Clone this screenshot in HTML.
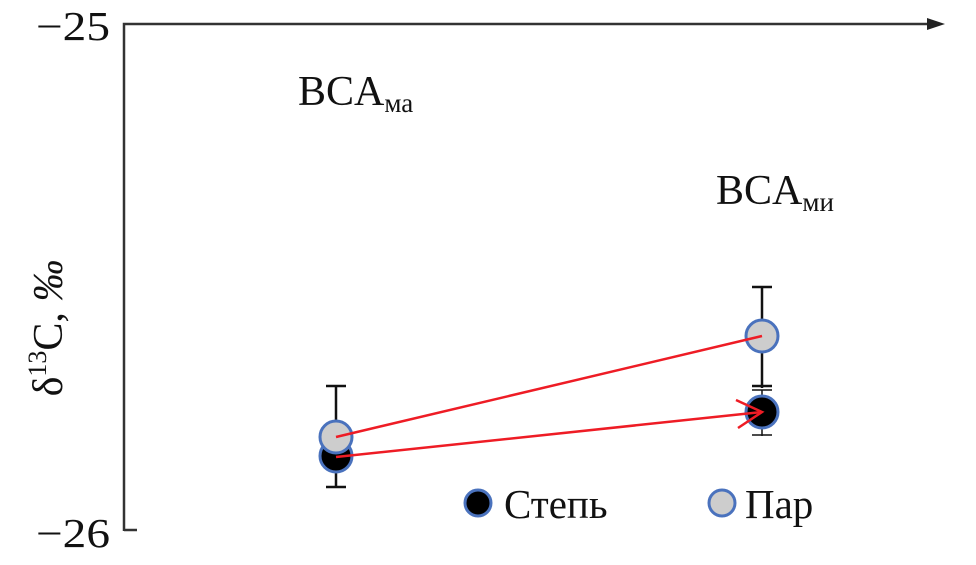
<!DOCTYPE html>
<html><head><meta charset="utf-8"><style>
body{margin:0;background:#fff}
svg text{font-family:"Liberation Serif",serif;fill:#111}
</style></head><body>
<svg width="976" height="560" viewBox="0 0 976 560" xmlns="http://www.w3.org/2000/svg">
<g stroke="#333" stroke-width="2.5" fill="none">
<path d="M124 530 H137 M124 531 V24 H940"/>
</g>
<polygon points="945,24 927,18 927,30" fill="#222"/>
<text x="36" y="40" font-size="41" textLength="74" lengthAdjust="spacingAndGlyphs">−25</text>
<text x="36" y="547" font-size="41" textLength="74" lengthAdjust="spacingAndGlyphs">−26</text>
<text transform="translate(62,328) rotate(-90)" font-size="42" text-anchor="middle">δ<tspan font-size="26" dy="-16">13</tspan><tspan dy="16">C, </tspan><tspan font-style="italic">‰</tspan></text>
<text x="298" y="105" font-size="42">BCA<tspan font-size="27" dy="7">ма</tspan></text>
<text x="716" y="204" font-size="42">BCA<tspan font-size="27" dy="7">ми</tspan></text>
<g stroke="#111" stroke-width="2.5">
<path d="M336 386 V487 M326 386 H346 M326 487 H346"/>
<path d="M762 287 V388 M752 287 H772 M752 386 H772"/>
<path d="M762 390 V436 M752 390 H772 M752 435 H772" stroke-width="1.5"/>
</g>
<circle cx="336" cy="456" r="16" fill="#000" stroke="#4a72bd" stroke-width="3"/>
<circle cx="336" cy="437" r="16" fill="#cdcdcd" stroke="#4a72bd" stroke-width="3"/>
<circle cx="762" cy="412" r="16" fill="#000" stroke="#4a72bd" stroke-width="3"/>
<circle cx="762" cy="336" r="16" fill="#cdcdcd" stroke="#4a72bd" stroke-width="3"/>
<g stroke="#ee1c25" stroke-width="2.5" fill="none">
<path d="M336 437 L762 336"/>
<path d="M336 457 L762 412"/>
<path d="M736 400 L762 412 L738 428"/>
</g>
<circle cx="478" cy="503" r="13" fill="#000" stroke="#4a72bd" stroke-width="3"/>
<text x="504" y="518" font-size="41">Степь</text>
<circle cx="722" cy="503" r="13" fill="#cdcdcd" stroke="#4a72bd" stroke-width="3"/>
<text x="745" y="518" font-size="41">Пар</text>
</svg>
</body></html>
